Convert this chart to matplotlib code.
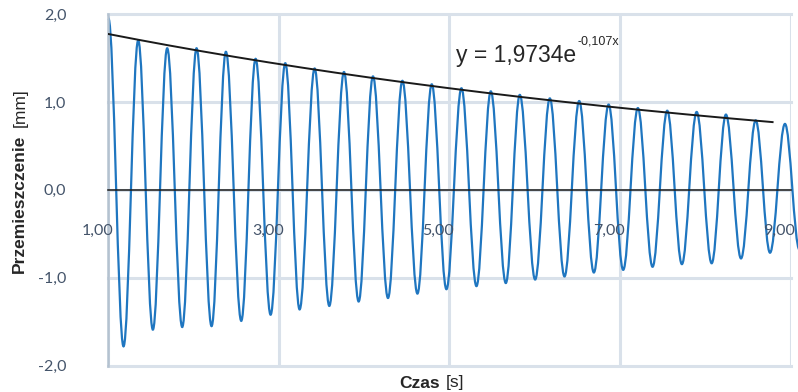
import numpy as np
import matplotlib
matplotlib.use("Agg")
import matplotlib.pyplot as plt
from matplotlib.path import Path
from matplotlib.patches import PathPatch
from matplotlib.transforms import ScaledTranslation

plt.rcParams['font.family'] = ['Liberation Sans', 'DejaVu Sans']

# Extrema of the oscillation (time [s], displacement [mm])
peak_t = [1.005, 1.354, 1.694, 2.038, 2.382, 2.730, 3.078, 3.422, 3.766, 4.106, 4.451, 4.795,
          5.143, 5.487, 5.827, 6.179, 6.523, 6.868, 7.211, 7.555, 7.900, 8.243, 8.592, 8.935]
peak_y = [1.95, 1.70, 1.61, 1.61, 1.57, 1.49, 1.44, 1.38, 1.34, 1.29, 1.24, 1.20,
          1.155, 1.12, 1.08, 1.04, 1.01, 0.97, 0.93, 0.90, 0.886, 0.856, 0.79, 0.75]
trough_t = [1.182, 1.526, 1.870, 2.214, 2.562, 2.906, 3.246, 3.594, 3.938, 4.282, 4.627, 4.967,
            5.319, 5.663, 6.007, 6.351, 6.695, 7.039, 7.383, 7.727, 8.076, 8.420, 8.760, 9.105]
trough_y = [-1.78, -1.59, -1.56, -1.55, -1.49, -1.42, -1.36, -1.32, -1.27, -1.23, -1.18, -1.13,
            -1.095, -1.06, -1.02, -0.985, -0.94, -0.91, -0.875, -0.845, -0.835, -0.78, -0.715, -0.68]

# Exponential trendline as printed on the chart
trend_a = 1.9734
trend_b = -0.107
trend_start, trend_end = 1.0, 8.79

x_ticks = [1, 3, 5, 7, 9]
x_labels = ["1,00", "3,00", "5,00", "7,00", "9,00"]
y_ticks = [-2, -1, 0, 1, 2]
y_labels = ["-2,0", "-1,0", "0,0", "1,0", "2,0"]

W, H = 798, 392
fig = plt.figure(figsize=(W / 100, H / 100), dpi=100)
ax = fig.add_axes([108 / W, 1 - 365.7 / H, (790.5 - 108) / W, (365.7 - 14) / H])

grid_col = '#D9E1EA'
label_col = '#44546A'
tick_font = ['Lato', 'DejaVu Sans']

ax.set_xlim(1, 9)
ax.set_ylim(-2, 2)
ax.set_xticks(x_ticks)
ax.set_xticklabels([])
ax.set_yticks(y_ticks)
ax.set_yticklabels(y_labels, family=tick_font)
ax.tick_params(length=0, labelsize=11.5, labelcolor=label_col)
ax.tick_params(axis='y', pad=30)

# x labels sit under the zero line, shifted a bit left of their gridline
lab_shift = ax.transData + ScaledTranslation(0.05, -0.41, fig.dpi_scale_trans)
for xv, lab in zip(x_ticks, x_labels):
    ax.text(xv, 0, lab, transform=lab_shift, ha='right', va='center', fontsize=11.5,
            color=label_col, family=tick_font, clip_on=False)

ax.grid(True, color=grid_col, linewidth=2.2)
ax.set_axisbelow(True)
for gl in ax.get_xgridlines() + ax.get_ygridlines():
    gl.set_clip_on(False)

for s in ['top', 'right']:
    ax.spines[s].set_visible(False)
ax.spines['left'].set_color('#B4C2D0')
ax.spines['left'].set_linewidth(1.8)
ax.spines['bottom'].set_position(('data', 0))
ax.spines['bottom'].set_color('#1a1a1a')
ax.spines['bottom'].set_linewidth(1.1)
ax.spines['bottom'].set_zorder(3)

# oscillation: smooth half-waves between the extrema
ext = sorted(zip(peak_t + trough_t, peak_y + trough_y))
k = 1 - 2 / np.pi
verts = [ext[0]]
codes = [Path.MOVETO]
for (t0, y0), (t1, y1) in zip(ext[:-1], ext[1:]):
    dt = t1 - t0
    verts += [(t0 + k * dt, y0), (t1 - k * dt, y1), (t1, y1)]
    codes += [Path.CURVE4] * 3
ax.add_patch(PathPatch(Path(verts, codes), facecolor='none', edgecolor='#1F76C0',
                       linewidth=1.6, clip_on=False, zorder=2))

tx = np.linspace(trend_start, trend_end, 200)
ax.plot(tx, trend_a * np.exp(trend_b * tx), color='#1a1a1a', linewidth=1.4, zorder=4)

# trendline equation
fig.text(456 / W, 1 - 62 / H, "y = 1,9734e", fontsize=16.5, color='#262626', va='baseline')
fig.text(577 / W, 1 - 45 / H, "-0,107x", fontsize=9, color='#262626', va='baseline')

# axis titles
fig.text(19 / W, 1 - 204 / H, "Przemieszczenie", rotation=90, fontsize=12.5, fontweight='bold',
         color='#262626', ha='center', va='center')
fig.text(20 / W, 1 - 108 / H, "[mm]", rotation=90, fontsize=12.5, color='#262626',
         ha='center', va='center')
fig.text(420 / W, 1 - 383 / H, "Czas", fontsize=12.5, fontweight='bold', color='#262626',
         ha='center', va='center')
fig.text(455 / W, 1 - 383 / H, "[s]", fontsize=12.5, color='#262626', ha='center', va='center')

fig.savefig("out.png", dpi=100)
